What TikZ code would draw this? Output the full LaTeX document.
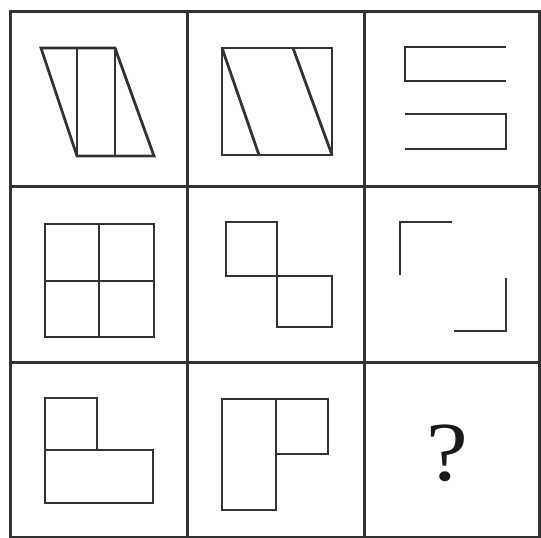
\documentclass[tikz,border=0pt]{standalone}
\usepackage{fontspec}
\setmainfont{Liberation Serif}
\begin{document}
\begin{tikzpicture}[x=1pt,y=-1pt,
  grid/.style={line width=3pt,draw=black!80},
  fig/.style={line width=2.8pt,draw=black!80,line join=miter,line cap=butt}]
\useasboundingbox (0,0) rectangle (541,538);
% grid
\draw[grid] (10,11) rectangle (539,537);
\draw[grid] (187,11) -- (187,537);
\draw[grid] (364,11) -- (364,537);
\draw[grid] (10,186) -- (539,186);
\draw[grid] (10,362) -- (539,362);
% cell 1
\draw[fig] (41,48) -- (115,48) -- (154,156) -- (77,156) -- cycle;
\draw[fig] (77,48) -- (77,156);
\draw[fig] (115,48) -- (115,156);
% cell 2
\draw[fig] (222,48) rectangle (332,155);
\draw[fig] (222,48) -- (259,155);
\draw[fig] (293,48) -- (332,155);
% cell 3
\draw[fig] (506,47) -- (405,47) -- (405,81) -- (506,81);
\draw[fig] (405,114) -- (506,114) -- (506,149) -- (405,149);
% cell 4
\draw[fig] (45,224) rectangle (154,337);
\draw[fig] (99,224) -- (99,337);
\draw[fig] (45,281) -- (154,281);
% cell 5
\draw[fig] (226,222) rectangle (277,276);
\draw[fig] (277,276) rectangle (332,327);
% cell 6
\draw[fig] (452,222) -- (400,222) -- (400,275);
\draw[fig] (454,331) -- (506,331) -- (506,278);
% cell 7
\draw[fig] (45,398) rectangle (97,450);
\draw[fig] (45,450) rectangle (153,503);
% cell 8
\draw[fig] (222,399) rectangle (276,510);
\draw[fig] (276,399) rectangle (328,454);
% cell 9
\node[font=\fontsize{84}{84}\selectfont,inner sep=0pt,text=black!90,xscale=1.12] (q) at (447,453) {?};
\end{tikzpicture}
\end{document}
